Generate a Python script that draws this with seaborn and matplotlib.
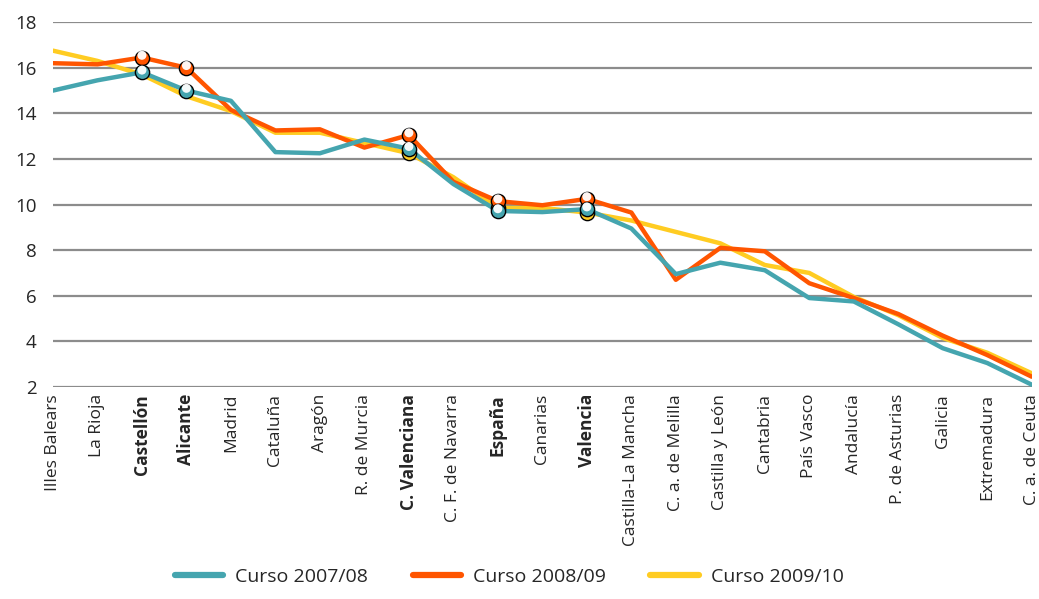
import pandas as pd
import seaborn as sns
import matplotlib.pyplot as plt
import matplotlib.transforms as mtransforms

# ------------------------------------------------------------
# datos
# ------------------------------------------------------------
regiones = ['Illes Balears', 'La Rioja', 'Castellón', 'Alicante', 'Madrid', 'Cataluña',
            'Aragón', 'R. de Murcia', 'C. Valenciana', 'C. F. de Navarra', 'España',
            'Canarias', 'Valencia', 'Castilla-La Mancha', 'C. a. de Melilla',
            'Castilla y León', 'Cantabria', 'País Vasco', 'Andalucía', 'P. de Asturias',
            'Galicia', 'Extremadura', 'C. a. de Ceuta']

curso_0708 = [15.0, 15.45, 15.8, 15.0, 14.55, 12.3, 12.25, 12.85, 12.45, 10.9, 9.72,
              9.67, 9.8, 8.95, 6.95, 7.45, 7.12, 5.9, 5.75, 4.75, 3.7, 3.05, 2.1]
curso_0809 = [16.2, 16.15, 16.45, 16.0, 14.15, 13.25, 13.3, 12.5, 13.05, 11.0, 10.15,
              9.97, 10.25, 9.65, 6.7, 8.1, 7.95, 6.55, 5.9, 5.2, 4.25, 3.4, 2.45]
curso_0910 = [16.75, 16.3, 15.7, 14.75, 14.1, 13.15, 13.15, 12.7, 12.25, 11.2, 9.85,
              9.85, 9.65, 9.3, 8.8, 8.3, 7.35, 7.0, 5.95, 5.15, 4.15, 3.5, 2.6]

series = ['Curso 2007/08', 'Curso 2008/09', 'Curso 2009/10']
colores = ['#45A5AF', '#FF5500', '#FFCC22']
destacados = ['Castellón', 'Alicante', 'C. Valenciana', 'España', 'Valencia']
# el curso 2009/10 solo lleva marcador en estas
destacados_0910 = ['C. Valenciana', 'España', 'Valencia']

df = pd.DataFrame({'region': regiones * 3,
                   'pos': list(range(len(regiones))) * 3,
                   'valor': curso_0708 + curso_0809 + curso_0910,
                   'curso': [s for s in series for _ in regiones]})

# ------------------------------------------------------------
# grafico
# ------------------------------------------------------------
sns.set_theme(style='white')
plt.rcParams['font.family'] = ['Open Sans', 'DejaVu Sans']

fig = plt.figure(figsize=(10.39, 5.99), dpi=100)
ax = fig.add_axes([0.051, 0.354, 0.942, 0.609])

for y in range(2, 19, 2):
    ax.axhline(y, color='#8C8C8C', lw=1.6, zorder=0)

# orden de dibujo: amarillo abajo, naranja, turquesa
orden = [2, 1, 0]
for i in orden:
    sub = df[df['curso'] == series[i]]
    sns.lineplot(data=sub, x='pos', y='valor', color=colores[i], lw=3.2,
                 ax=ax, legend=False, zorder=2 + (2 - i))

# marcadores con brillo en las regiones destacadas
brillo = mtransforms.offset_copy(ax.transData, fig=fig, x=0.0, y=1.6, units='points')
for i in orden:
    marcar = destacados_0910 if i == 2 else destacados
    sub = df[(df['curso'] == series[i]) & (df['region'].isin(marcar))]
    z = 6 + 2 * (2 - i)
    ax.scatter(sub['pos'], sub['valor'], s=105, color=colores[i], edgecolor='black',
               linewidth=1.0, zorder=z)
    ax.scatter(sub['pos'], sub['valor'], s=42, color='white', edgecolor='none',
               alpha=0.95, zorder=z + 1, transform=brillo)

ax.set_xlim(0, len(regiones) - 1)
ax.set_ylim(2, 18)
ax.set_yticks(range(2, 19, 2))
ax.set_xticks(range(len(regiones)))
ax.set_xticklabels(regiones, rotation=90, fontsize=12.5)
for lbl in ax.get_xticklabels():
    if lbl.get_text() in destacados:
        lbl.set_fontweight('bold')
ax.tick_params(axis='y', labelsize=13.5, length=0, pad=12)
ax.tick_params(axis='x', length=0, pad=5)
ax.set_xlabel('')
ax.set_ylabel('')
for s in ax.spines.values():
    s.set_visible(False)

manijas = [plt.Line2D([], [], color=c, lw=4.5) for c in colores]
fig.legend(manijas, series, loc='lower center', bbox_to_anchor=(0.49, -0.008),
           ncol=3, frameon=False, fontsize=14, handlelength=2.5, handletextpad=0.6,
           columnspacing=2.3)

fig.savefig('out.png', dpi=100)
